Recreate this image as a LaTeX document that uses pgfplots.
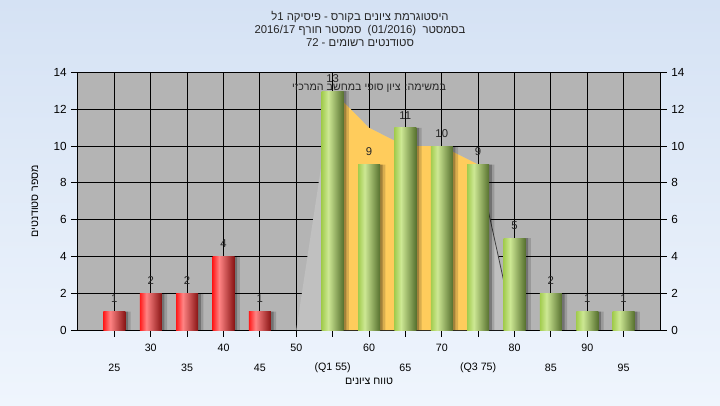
\documentclass[border=0pt]{standalone}
\usepackage{fontspec}
\setmainfont{Liberation Sans}
\usepackage{pgfplots}
\usepackage{pgfplotstable}
\pgfplotsset{compat=1.18}
\TeXXeTstate=1
\definecolor{bgtop}{HTML}{D5E2F4}
\definecolor{bgbot}{HTML}{EFF5FD}
\definecolor{plotgray}{HTML}{B4B4B4}
\definecolor{areagray}{HTML}{C0C0C0}
\definecolor{areayel}{HTML}{FFCC5C}
\definecolor{g1}{HTML}{A2CC4E}
\definecolor{g2}{HTML}{CDE894}
\definecolor{g3}{HTML}{56702E}
\definecolor{r1}{HTML}{FF1A1A}
\definecolor{r2}{HTML}{FF8484}
\definecolor{r3}{HTML}{881414}
\pgfdeclarehorizontalshading{greenbar}{100bp}{color(0bp)=(g1); color(25bp)=(g1); color(40bp)=(g2); color(75bp)=(g3); color(100bp)=(g3)}
\pgfdeclarehorizontalshading{redbar}{100bp}{color(0bp)=(r1); color(25bp)=(r1); color(40bp)=(r2); color(75bp)=(r3); color(100bp)=(r3)}
\pgfplotstableread{
x y
25 1
30 2
35 2
40 4
45 1
}\redtab
\pgfplotstableread{
x y
55 13
60 9
65 11
70 10
75 9
80 5
85 2
90 1
95 1
}\greentab
\pgfplotstableread{
x y
50 0
55 13
60 11
65 10
70 10
75 9
80 0
}\areatab
\pgfplotstableread{
x y
55 13
60 11
65 10
70 10
75 9
}\yeltab
\pgfplotsset{
  rbar/.style={ybar, bar width=16.5pt, bar shift=0pt, draw=none, shading=redbar},
  gbar/.style={ybar, bar width=16.5pt, bar shift=0pt, draw=none, shading=greenbar},
}
\begin{document}
\begin{tikzpicture}
\shade[top color=bgtop,bottom color=bgbot] (0,0) rectangle (540pt,303.75pt);
\useasboundingbox (0,0) rectangle (540pt,303.75pt);
\node[align=center, font=\fontsize{8.5}{9.75}\selectfont, text=black!85] at (270pt,282pt)
 {\beginR היסטוגרמת ציונים בקורס - פיסיקה 1ל\endR\\
  \beginR בסמסטר \ \beginL(01/2016)\endL{} \ סמסטר חורף \beginL 2016/17\endL\endR\\
  \beginR סטודנטים רשומים - 72\endR};
\begin{axis}[
  at={(58.5pt,56.25pt)}, anchor=south west,
  width=436.5pt, height=193pt, scale only axis,
  xmin=20, xmax=100, ymin=0, ymax=14,
  axis background/.style={fill=plotgray},
  axis line style={black, line width=0.75pt},
  tick align=outside, major tick length=5pt,
  tick style={black, line width=0.75pt},
  xtick pos=bottom, ytick pos=both, yticklabel pos=left,
  xtick={25,35,...,95},
  xticklabels={25,35,45,(Q1 55),65,(Q3 75),85,95},
  extra x ticks={30,40,...,90},
  extra x tick labels={30,40,50,60,70,80,90},
  extra x tick style={grid=major, xticklabel style={yshift=15pt}},
  xticklabel style={anchor=center, yshift=-23.5pt, font=\fontsize{8}{9}\selectfont},
  ytick={0,2,...,14},
  yticklabel style={font=\fontsize{8.8}{10}\selectfont},
  /pgf/number format/assume math mode=true,
  xmajorgrids, ymajorgrids,
  grid style={black, line width=0.75pt},
  xlabel={\beginR טווח ציונים\endR},
  xlabel style={at={(axis description cs:0.5,-0.198)}, anchor=center, font=\fontsize{8}{9}\selectfont},
  ylabel={\beginR מספר סטודנטים\endR},
  ylabel style={at={(axis description cs:-0.074,0.5)}, anchor=center, rotate=0, font=\fontsize{8}{9}\selectfont},
  nodes near coords,
  every node near coord/.append style={font=\fontsize{8.5}{9}\selectfont, text=black!85, yshift=3pt},
]
\addplot[fill=areagray, draw=none, nodes near coords=] table[x=x,y=y] {\areatab} \closedcycle;
\addplot[fill=areayel, draw=none, nodes near coords=] table[x=x,y=y] {\yeltab} \closedcycle;
\addplot[black!75, line width=0.6pt, nodes near coords=] coordinates {(75,9) (80,0)};
% shadows
\addplot[ybar, bar width=16.5pt, bar shift=4pt, fill=black, opacity=0.15, draw=none, nodes near coords=] table[x=x,y=y] {\redtab};
\addplot[ybar, bar width=16.5pt, bar shift=2pt, fill=black, opacity=0.25, draw=none, nodes near coords=] table[x=x,y=y] {\redtab};
\addplot[ybar, bar width=16.5pt, bar shift=4pt, fill=black, opacity=0.15, draw=none, nodes near coords=] table[x=x,y=y] {\greentab};
\addplot[ybar, bar width=16.5pt, bar shift=2pt, fill=black, opacity=0.25, draw=none, nodes near coords=] table[x=x,y=y] {\greentab};
% bars, one path each so that each bar gets its own cylinder shading
\addplot[rbar] coordinates {(25,1)};
\addplot[rbar] coordinates {(30,2)};
\addplot[rbar] coordinates {(35,2)};
\addplot[rbar] coordinates {(40,4)};
\addplot[rbar] coordinates {(45,1)};
\addplot[gbar] coordinates {(55,13)};
\addplot[gbar] coordinates {(60,9)};
\addplot[gbar] coordinates {(65,11)};
\addplot[gbar] coordinates {(70,10)};
\addplot[gbar] coordinates {(75,9)};
\addplot[gbar] coordinates {(80,5)};
\addplot[gbar] coordinates {(85,2)};
\addplot[gbar] coordinates {(90,1)};
\addplot[gbar] coordinates {(95,1)};
\node[font=\fontsize{8}{9}\selectfont, text=black!85] at (rel axis cs:0.5,0.94) {\beginR במשימה: ציון סופי במחשב המרכזי\endR};
\end{axis}
\begin{axis}[
  at={(58.5pt,56.25pt)}, anchor=south west,
  width=436.5pt, height=193pt, scale only axis,
  xmin=20, xmax=100, ymin=0, ymax=14,
  hide x axis,
  axis line style={draw=none},
  tick style={draw=none},
  ytick={0,2,...,14},
  ytick pos=right, yticklabel pos=right,
  major tick length=5pt,
  yticklabel style={font=\fontsize{8.8}{10}\selectfont, xshift=5pt},
  /pgf/number format/assume math mode=true,
]
\addplot[draw=none] coordinates {(20,0)};
\end{axis}
\end{tikzpicture}
\end{document}
